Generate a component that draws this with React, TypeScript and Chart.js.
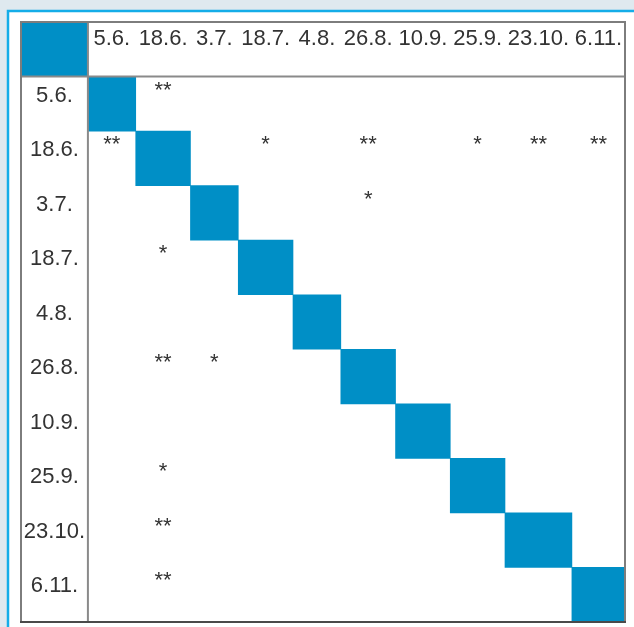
import { useEffect, useRef } from 'react';
import { Chart, registerables } from 'chart.js';

Chart.register(...registerables);

// Sampling dates (row and column labels of the matrix)
const dates = ['5.6.', '18.6.', '3.7.', '18.7.', '4.8.', '26.8.', '10.9.', '25.9.', '23.10.', '6.11.'];

// Significant pairwise differences: row index, column index, mark
const sigRow = [0, 1, 1, 1, 1, 1, 1, 2, 3, 5, 5, 7, 8, 9];
const sigCol = [1, 0, 3, 5, 7, 8, 9, 5, 1, 1, 2, 1, 1, 1];
const sigMark = ['**', '**', '*', '**', '*', '**', '**', '*', '*', '**', '*', '*', '**', '**'];

const W = 634;
const H = 627;
const FONT = '22px "Liberation Sans", Arial, sans-serif';
const BLUE = '#008fc6';
const TEXT = '#333333';
const LINE = '#7d7d7d';

export default function App() {
  const ref = useRef<HTMLCanvasElement>(null);

  useEffect(() => {
    const canvas = ref.current!;
    const mctx = canvas.getContext('2d')!;
    mctx.font = FONT;
    const labelW = dates.map((d) => mctx.measureText(d).width);
    const colW = labelW.map((w) => Math.max(48, w + 6));
    const headW = Math.max(...labelW) + 6;
    const edges: number[] = [0, headW];
    colW.forEach((w) => edges.push(edges[edges.length - 1] + w));
    const total = edges[edges.length - 1];

    const rows = [' ', ...dates];
    // header corner cell + diagonal cells as floating bars
    const bars = rows.map((_, i) => [edges[i], edges[i + 1]]);

    const tablePlugin = {
      id: 'table',
      beforeDraw(chart: any) {
        const c = chart.ctx as CanvasRenderingContext2D;
        c.save();
        c.fillStyle = '#dfe9ef';
        c.fillRect(0, 0, W, H);
        c.fillStyle = '#ffffff';
        c.fillRect(8, 11, W, H);
        c.strokeStyle = '#14ade8';
        c.lineWidth = 2.5;
        c.beginPath();
        c.moveTo(8, H + 2);
        c.lineTo(8, 11);
        c.lineTo(W + 2, 11);
        c.stroke();
        c.restore();
      },
      afterDatasetsDraw(chart: any) {
        const c = chart.ctx as CanvasRenderingContext2D;
        const a = chart.chartArea;
        const x = chart.scales.x;
        const y = chart.scales.y;
        const rowH = (a.bottom - a.top) / rows.length;
        const rowTop = (i: number) => y.getPixelForValue(i) - rowH / 2;
        const colL = (j: number) => x.getPixelForValue(edges[j + 1]);
        const colR = (j: number) => x.getPixelForValue(edges[j + 2]);
        const headR = x.getPixelForValue(edges[1]);
        const headB = rowTop(1);

        c.save();
        // separators
        c.strokeStyle = '#8a8a8a';
        c.lineWidth = 2;
        c.beginPath();
        c.moveTo(a.left, headB);
        c.lineTo(a.right, headB);
        c.moveTo(headR, a.top);
        c.lineTo(headR, a.bottom);
        c.stroke();
        // outer border
        c.strokeStyle = LINE;
        c.beginPath();
        c.moveTo(a.left, a.bottom);
        c.lineTo(a.left, a.top);
        c.lineTo(a.right, a.top);
        c.lineTo(a.right, a.bottom);
        c.stroke();
        c.strokeStyle = '#4a4a4a';
        c.beginPath();
        c.moveTo(a.left - 1, a.bottom);
        c.lineTo(a.right + 1, a.bottom);
        c.stroke();

        c.font = FONT;
        c.fillStyle = TEXT;
        c.textAlign = 'center';
        c.textBaseline = 'alphabetic';
        // column headers
        dates.forEach((d, j) => {
          c.fillText(d, (colL(j) + colR(j)) / 2, a.top + 23);
        });
        // row headers
        dates.forEach((d, i) => {
          c.fillText(d, (a.left + headR) / 2, rowTop(i + 1) + 25);
        });
        // significance marks
        sigMark.forEach((m, k) => {
          const j = sigCol[k];
          const i = sigRow[k];
          c.fillText(m, (colL(j) + colR(j)) / 2, rowTop(i + 1) + 20);
        });
        c.restore();
      },
    };

    const chart = new Chart(canvas, {
      type: 'bar',
      data: {
        labels: rows,
        datasets: [
          {
            data: bars as any,
            backgroundColor: BLUE,
            borderWidth: 0,
            barPercentage: 1,
            categoryPercentage: 1,
          },
        ],
      },
      options: {
        indexAxis: 'y',
        responsive: false,
        animation: false,
        devicePixelRatio: 1,
        layout: { padding: { left: 21, top: 22, right: 9, bottom: 5 } },
        scales: {
          x: { type: 'linear', min: 0, max: total, display: false },
          y: { type: 'category', display: false, offset: true },
        },
        plugins: {
          legend: { display: false },
          tooltip: { enabled: false },
        },
      },
      plugins: [tablePlugin],
    });

    return () => chart.destroy();
  }, []);

  return (
    <div style={{ position: 'fixed', left: 0, top: 0, width: W, height: H }}>
      <canvas ref={ref} width={W} height={H} style={{ display: 'block', width: W, height: H }} />
    </div>
  );
}
